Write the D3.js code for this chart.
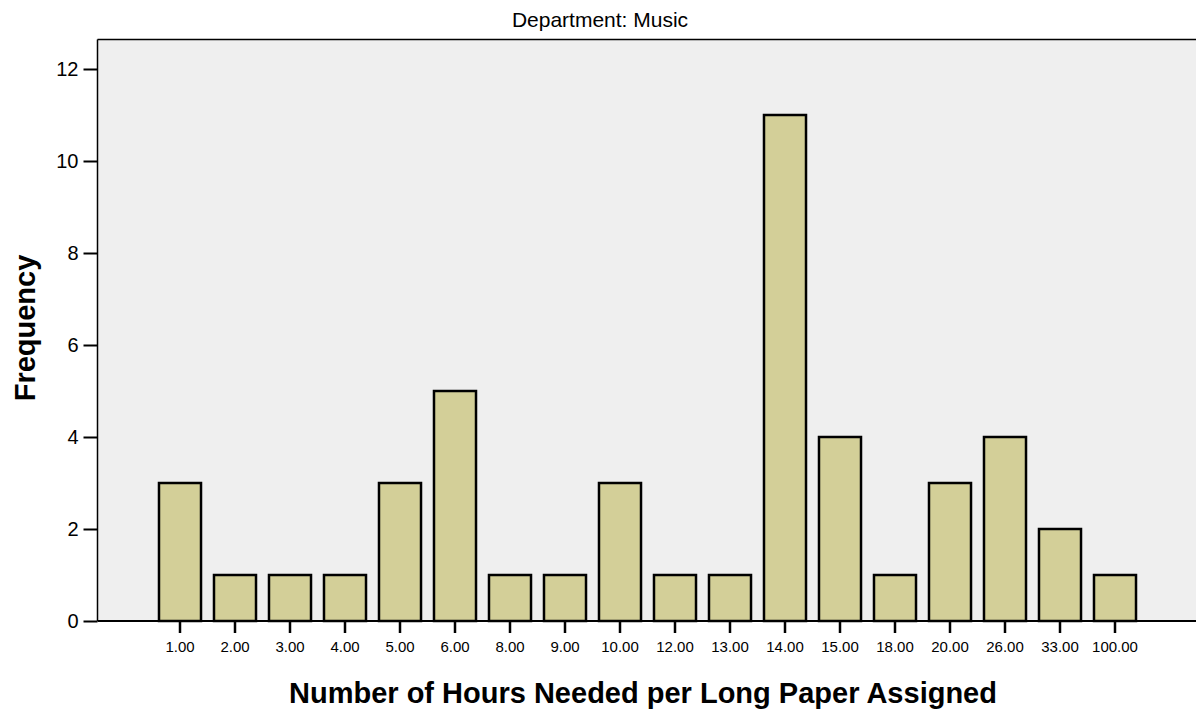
<!DOCTYPE html>
<html>
<head>
<meta charset="utf-8">
<script src="https://cdn.jsdelivr.net/npm/d3@7"></script>
<style>
  html, body { margin: 0; padding: 0; background: #ffffff; }
  svg { display: block; font-family: Arial, "Liberation Sans", sans-serif; }
</style>
</head>
<body>
<svg id="chart" width="1196" height="710"></svg>
<script>
const categories = ["1.00","2.00","3.00","4.00","5.00","6.00","8.00","9.00","10.00","12.00","13.00","14.00","15.00","18.00","20.00","26.00","33.00","100.00"];
const frequencies = [3,1,1,1,3,5,1,1,3,1,1,11,4,1,3,4,2,1];
const yTicks = [0,2,4,6,8,10,12];
const titleText = "Department: Music";
const xTitle = "Number of Hours Needed per Long Paper Assigned";
const yTitle = "Frequency";

const svg = d3.select("#chart");
const plotLeft = 97.5, plotTop = 39.5, plotBottom = 621, plotRight = 1200;

const x = d3.scaleBand()
  .domain(categories)
  .range([152.5, 152.5 + 55 * categories.length])
  .paddingInner(0.236)
  .paddingOuter(0.118);

const y = d3.scaleLinear().domain([0, 12]).range([plotBottom, 69]);

// plot background
svg.append("rect")
  .attr("x", plotLeft).attr("y", plotTop)
  .attr("width", plotRight - plotLeft).attr("height", plotBottom - plotTop)
  .attr("fill", "#efefef");

// frame top
svg.append("line").attr("x1", plotLeft).attr("x2", plotRight)
  .attr("y1", plotTop).attr("y2", plotTop)
  .attr("stroke", "#000").attr("stroke-width", 1.5);

// bars
const bw = x.bandwidth();
svg.append("g").selectAll("rect")
  .data(categories.map((c, i) => ({c, v: frequencies[i]})))
  .join("rect")
  .attr("x", d => x(d.c))
  .attr("y", d => y(d.v))
  .attr("width", bw)
  .attr("height", d => y(0) - y(d.v))
  .attr("fill", "#d3cf98")
  .attr("stroke", "#000")
  .attr("stroke-width", 2.5);

// y axis
const yAxis = d3.axisLeft(y).tickValues(yTicks).tickSize(14).tickPadding(5).tickFormat(d3.format("d"));
const gy = svg.append("g").attr("transform", `translate(${plotLeft},0)`).call(yAxis);
gy.select(".domain").attr("stroke", "#000").attr("stroke-width", 1.5).attr("d", `M0,${plotTop}V${plotBottom}`);
gy.selectAll(".tick line").attr("stroke", "#000").attr("stroke-width", 2);
gy.selectAll(".tick text").attr("font-size", 20).attr("fill", "#000").attr("font-family", "Arial, 'Liberation Sans', sans-serif");

// x axis
const xAxis = d3.axisBottom(x).tickSize(12).tickPadding(8);
const gx = svg.append("g").attr("transform", `translate(0,${plotBottom})`).call(xAxis);
gx.select(".domain").attr("stroke", "#000").attr("stroke-width", 2).attr("d", `M${plotLeft},0H${plotRight}`);
gx.selectAll(".tick line").attr("stroke", "#000").attr("stroke-width", 2.5);
gx.selectAll(".tick text").attr("font-size", 15).attr("fill", "#000").attr("font-family", "Arial, 'Liberation Sans', sans-serif");

// title
svg.append("text").attr("x", 600).attr("y", 27)
  .attr("text-anchor", "middle").attr("font-size", 21).attr("fill", "#000")
  .text(titleText);

// x title
svg.append("text").attr("x", 643).attr("y", 703)
  .attr("text-anchor", "middle").attr("font-size", 29).attr("font-weight", "bold").attr("fill", "#000")
  .text(xTitle);

// y title
svg.append("text").attr("transform", "translate(35,328) rotate(-90)")
  .attr("text-anchor", "middle").attr("font-size", 29).attr("font-weight", "bold").attr("fill", "#000")
  .text(yTitle);
</script>
</body>
</html>
